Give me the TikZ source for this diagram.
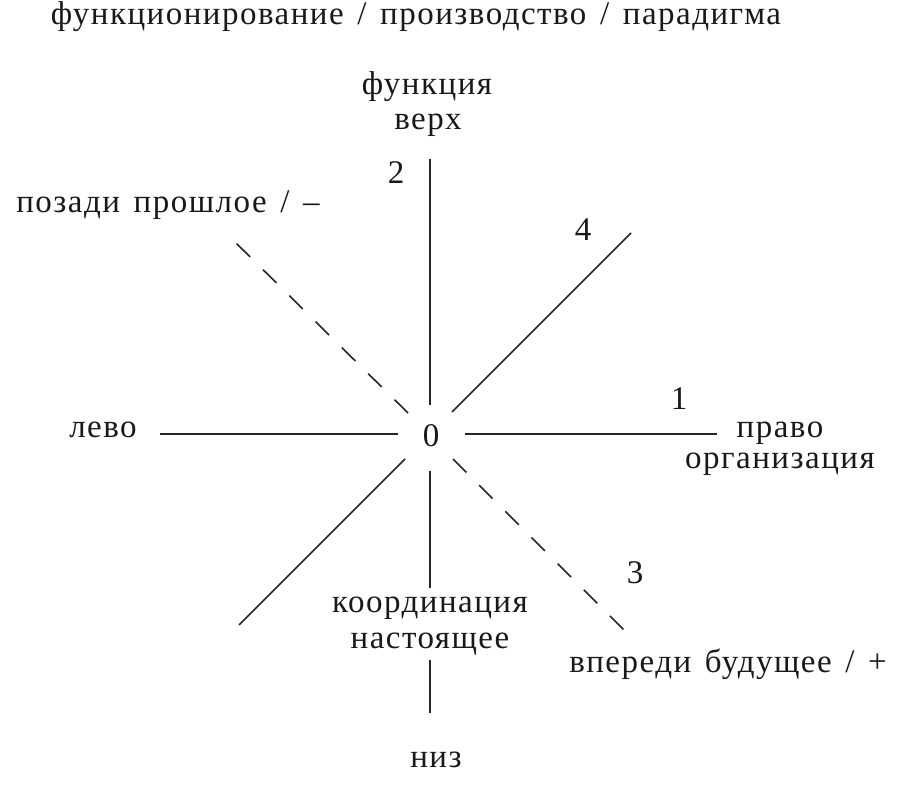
\documentclass[tikz,border=0pt]{standalone}
\usepackage{fontspec}
\setmainfont{Liberation Serif}[LetterSpace=4.5,WordSpace=1.4]
\begin{document}
\begin{tikzpicture}[x=1pt,y=-1pt,
  lbl/.style={inner sep=0pt, anchor=base, text=black!90, font=\fontsize{33}{38}\selectfont},
  ax/.style={line width=1.6pt, draw=black!85},
  dsh/.style={ax, dash pattern=on 19pt off 18pt}]
\useasboundingbox (0,0) rectangle (900,791);
% texts
\node[lbl] (title) at (416,25) {функционирование / производство / парадигма};
\node[lbl] (funk) at (427,95) {функция};
\node[lbl] (verh) at (428,130) {верх};
\node[lbl] (n2) at (396,184) {2};
\node[lbl] (pozadi) at (168,213) {позади прошлое / –};
\node[lbl] (n4) at (583,241) {4};
\node[lbl] (levo) at (103,438) {лево};
\node[lbl] (zero) at (431,447) {0};
\node[lbl] (n1) at (679,410) {1};
\node[lbl] (pravo) at (780,438) {право};
\node[lbl] (org) at (780,469) {организация};
\node[lbl] (n3) at (635,583) {3};
\node[lbl] (vpered) at (728,672) {впереди будущее / +};
\node[lbl] (koord) at (430,612) {координация};
\node[lbl] (nast) at (430,648) {настоящее};
\node[lbl] (niz) at (436,767) {низ};
% end points
\coordinate (tTop) at (430,159); \coordinate (tBot) at (430,405);
\coordinate (bTop) at (430,471); \coordinate (bMidA) at (430,588);
\coordinate (bMidB) at (430,660); \coordinate (bBot) at (430,713);
\coordinate (lA) at (160,434); \coordinate (lB) at (398,434);
\coordinate (rA) at (465,434); \coordinate (rB) at (717,434);
\coordinate (urA) at (452,412); \coordinate (urB) at (631,233);
\coordinate (llA) at (405,459); \coordinate (llB) at (239,625);
\coordinate (ulA) at (408,413); \coordinate (ulB) at (233,240);
\coordinate (lrA) at (453,459); \coordinate (lrB) at (627,633);
% connectors
\draw[ax] (tBot) -- (tTop);
\draw[ax] (bTop) -- (bMidA);
\draw[ax] (bMidB) -- (bBot);
\draw[ax] (lA) -- (lB);
\draw[ax] (rA) -- (rB);
\draw[ax] (urA) -- (urB);
\draw[ax] (llA) -- (llB);
\draw[dsh] (ulA) -- (ulB);
\draw[dsh] (lrA) -- (lrB);
\end{tikzpicture}
\end{document}
